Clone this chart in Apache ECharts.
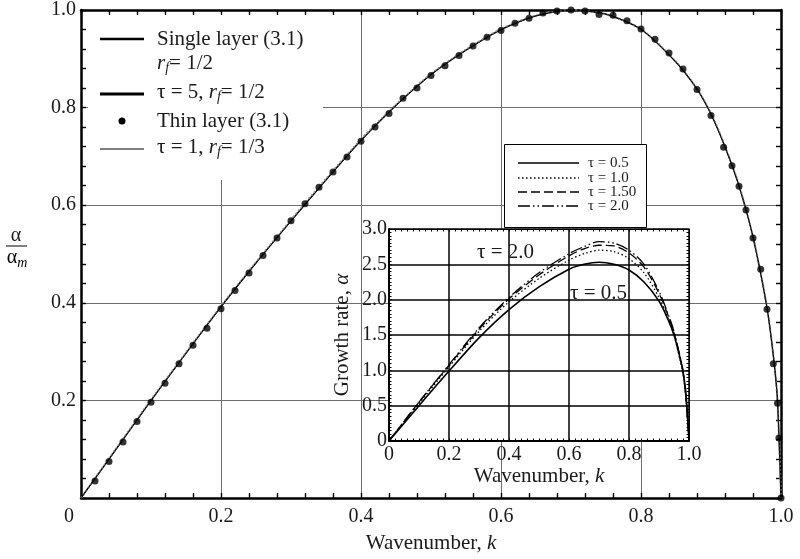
<!DOCTYPE html>
<html>
<head>
<meta charset="utf-8">
<script src="https://cdn.jsdelivr.net/npm/echarts@6/dist/echarts.min.js"></script>
<style>html,body{margin:0;padding:0;background:#fff}#c{width:800px;height:559px}</style>
</head>
<body>
<div id="c"></div>
<script>
// ---------- Data ----------
// Main plot: thin-layer dots
var thinK = [0.02,0.04,0.06,0.08,0.10,0.12,0.14,0.16,0.18,0.20,0.22,0.24,0.26,0.28,0.30,0.32,0.34,0.36,0.38,0.40,0.42,0.44,0.46,0.48,0.50,0.52,0.54,0.56,0.58,0.60,0.62,0.64,0.66,0.68,0.70,0.72,0.74,0.76,0.78,0.80,0.82,0.84,0.86,0.88,0.90,0.918,0.93,0.94,0.95,0.96,0.971,0.98,0.989,0.995,0.997,1.0];
var thinV = [0.035,0.075,0.115,0.157,0.196,0.235,0.275,0.313,0.348,0.388,0.425,0.461,0.497,0.533,0.568,0.603,0.637,0.668,0.699,0.731,0.760,0.788,0.819,0.840,0.866,0.886,0.907,0.926,0.944,0.958,0.973,0.983,0.994,0.998,1.0,0.998,0.991,0.989,0.978,0.961,0.94,0.912,0.879,0.837,0.784,0.719,0.681,0.639,0.59,0.533,0.469,0.387,0.275,0.194,0.123,0.0];
// Main plot: curves
var lineK      = [0,0.02,0.05,0.10,0.15,0.20,0.25,0.30,0.35,0.40,0.45,0.50,0.55,0.60,0.65,0.70,0.75,0.80,0.85,0.88,0.90,0.92,0.94,0.96,0.98,0.99,0.995,1.0];
var singleV    = [0,0.040,0.100,0.200,0.297,0.392,0.482,0.568,0.652,0.733,0.805,0.868,0.918,0.960,0.988,1.000,0.991,0.960,0.893,0.838,0.787,0.720,0.640,0.535,0.390,0.280,0.200,0];
var tau5V      = [0,0.040,0.101,0.201,0.298,0.393,0.483,0.570,0.654,0.735,0.806,0.869,0.919,0.961,0.989,1.000,0.991,0.961,0.894,0.839,0.788,0.721,0.641,0.536,0.391,0.281,0.200,0];
var tau1V      = [0,0.039,0.099,0.199,0.296,0.391,0.481,0.567,0.651,0.732,0.804,0.867,0.917,0.959,0.988,1.000,0.992,0.961,0.893,0.838,0.786,0.719,0.639,0.534,0.389,0.279,0.199,0];
// Inset: growth rate vs wavenumber
var insetK   = [0,0.10,0.20,0.30,0.40,0.50,0.60,0.65,0.70,0.75,0.80,0.85,0.90,0.93,0.95,0.97,0.98,0.99,1.0];
var tau05V   = [0,0.50,0.99,1.46,1.86,2.18,2.43,2.50,2.53,2.50,2.42,2.25,1.98,1.72,1.50,1.18,0.98,0.66,0];
var tau10V   = [0,0.53,1.05,1.55,1.97,2.30,2.56,2.65,2.70,2.68,2.58,2.38,2.03,1.74,1.50,1.15,0.95,0.60,0];
var tau15V   = [0,0.55,1.07,1.58,2.01,2.35,2.62,2.72,2.77,2.76,2.66,2.46,2.09,1.78,1.53,1.18,0.98,0.60,0];
var tau20V   = [0,0.55,1.08,1.60,2.03,2.38,2.65,2.75,2.82,2.80,2.70,2.50,2.12,1.80,1.55,1.20,1.00,0.60,0];
// Tick labels
var mainXTicks  = ['0','0.2','0.4','0.6','0.8','1.0'];
var mainYTicks  = ['','0.2','0.4','0.6','0.8','1.0'];
var insetXTicks = ['0','0.2','0.4','0.6','0.8','1.0'];
var insetYTicks = ['0','0.5','1.0','1.5','2.0','2.5','3.0'];

// ---------- Helpers ----------
function pairs(xs, ys){ return xs.map(function(x,i){ return [x, ys[i]]; }); }
var FF = '"Liberation Serif","DejaVu Serif","Times New Roman",serif';
var TXT = '#1a1a1a';

function tickFmt(list, step){ return function(v){ var i = Math.round(v/step); return list[i] !== undefined ? list[i] : ''; }; }

function frameAxis(kind, grid, pos, opts){
  return {
    type:'value', gridIndex:grid, position:pos, min:opts.min, max:opts.max, interval:opts.interval,
    z: opts.z,
    axisLine:{show:true, onZero:false, lineStyle:{color:'#000', width:opts.lw}},
    axisTick:{show:true, inside:true, length:opts.tl, lineStyle:{color:'#000', width:opts.tw}},
    minorTick:{show:true, splitNumber:opts.minor, length:opts.tl, lineStyle:{color:'#000', width:opts.tw}},
    splitLine:{show:false},
    axisLabel:{show:false}
  };
}

var mainX = frameAxis('x',0,'bottom',{min:0,max:1,interval:0.2,lw:2.5,tl:5,tw:1.4,minor:5,z:0});
mainX.splitLine = {show:true, lineStyle:{color:'#6e6e6e', width:1}};
mainX.axisLabel = {show:true, margin:9, color:TXT, fontSize:20, fontFamily:FF,
  formatter:function(v){ var s = tickFmt(mainXTicks,0.2)(v); return v===0 ? '{z|'+s+'}' : s; },
  rich:{z:{fontSize:20, fontFamily:FF, color:TXT, padding:[0,24,0,0]}}};
mainX.name = 'Wavenumber, {i|k}';
mainX.nameLocation = 'middle';
mainX.nameGap = 35;
mainX.nameTextStyle = {fontSize:21, fontFamily:FF, color:TXT, rich:{i:{fontSize:21, fontFamily:FF, fontStyle:'italic', color:TXT}}};

var mainXTop = frameAxis('x',0,'top',{min:0,max:1,interval:0.2,lw:2.5,tl:5,tw:1.4,minor:5,z:0});

var mainY = frameAxis('y',0,'left',{min:0,max:1,interval:0.2,lw:2.5,tl:5,tw:1.4,minor:5,z:0});
mainY.splitLine = {show:true, lineStyle:{color:'#6e6e6e', width:1}};
mainY.axisLabel = {show:true, margin:5, color:TXT, fontSize:20, fontFamily:FF, formatter:tickFmt(mainYTicks,0.2)};

var mainYRight = frameAxis('y',0,'right',{min:0,max:1,interval:0.2,lw:2.5,tl:5,tw:1.4,minor:5,z:0});

var inX = frameAxis('x',1,'bottom',{min:0,max:1,interval:0.2,lw:2,tl:2.5,tw:1,minor:10,z:3});
inX.splitLine = {show:true, lineStyle:{color:'#000', width:1.5}};
inX.axisLabel = {show:true, margin:4, color:TXT, fontSize:20, fontFamily:FF, formatter:tickFmt(insetXTicks,0.2)};
inX.name = 'Wavenumber, {i|k}';
inX.nameLocation = 'middle';
inX.nameGap = 24;
inX.nameTextStyle = {fontSize:21, fontFamily:FF, color:TXT, rich:{i:{fontSize:21, fontFamily:FF, fontStyle:'italic', color:TXT}}};

var inXTop = frameAxis('x',1,'top',{min:0,max:1,interval:0.2,lw:1,tl:2.5,tw:1,minor:10,z:3});

var inY = frameAxis('y',1,'left',{min:0,max:3,interval:0.5,lw:2,tl:2.5,tw:1,minor:10,z:3});
inY.splitLine = {show:true, lineStyle:{color:'#000', width:1.5}};
inY.axisLabel = {show:true, margin:2, color:TXT, fontSize:20, fontFamily:FF, formatter:tickFmt(insetYTicks,0.5)};
inY.name = 'Growth rate, {i|α}';
inY.nameLocation = 'middle';
inY.nameGap = 36;
inY.nameTextStyle = {fontSize:21, fontFamily:FF, color:TXT, rich:{i:{fontSize:21, fontFamily:FF, fontStyle:'italic', color:TXT}}};

var inYRight = frameAxis('y',1,'right',{min:0,max:3,interval:0.5,lw:1,tl:2.5,tw:1,minor:10,z:3});

var richR = {
  n:{fontSize:21, fontFamily:FF, color:TXT},
  it:{fontSize:21, fontFamily:FF, fontStyle:'italic', color:TXT},
  sub:{fontSize:14, fontFamily:FF, fontStyle:'italic', color:TXT, padding:[10,0,0,0]}
};
function ltext(x, y, txt, z){
  return {type:'text', x:x, y:y, z:z||6, silent:true,
    style:{text:txt, rich:richR, fontSize:21, fontFamily:FF, fill:TXT, verticalAlign:'middle', align:'left'}};
}
function hline(x1,x2,y,w,dash,z){
  return {type:'line', z:z||6, silent:true, shape:{x1:x1,y1:y,x2:x2,y2:y},
    style:{stroke:'#000', lineWidth:w, lineDash:dash||null}};
}
var small = {fontSize:15, fontFamily:FF, fill:TXT, verticalAlign:'middle', align:'left'};
function stext(x,y,t){ return {type:'text', x:x, y:y, z:7, silent:true, style:Object.assign({text:t}, small)}; }

var graphics = [
  // main legend
  {type:'rect', z:1, silent:true, shape:{x:88, y:15, width:235, height:165}, style:{fill:'#fff'}},
  hline(100,144,39,2.5),
  ltext(157,39,'{n|Single layer (3.1)}'),
  ltext(157,63,'{it|r}{sub|f}{n|= 1/2}'),
  hline(100,144,94,3),
  ltext(157,92,'{n|τ = 5, }{it|r}{sub|f}{n|= 1/2}'),
  {type:'circle', z:6, silent:true, shape:{cx:122, cy:121, r:3.5}, style:{fill:'#000'}},
  ltext(157,121,'{n|Thin layer (3.1)}'),
  hline(100,144,149,1),
  ltext(157,147,'{n|τ = 1, }{it|r}{sub|f}{n|= 1/3}'),
  // inset legend
  {type:'rect', z:5, silent:true, shape:{x:504.5, y:144.5, width:142, height:83}, style:{fill:'#fff', stroke:'#000', lineWidth:1}},
  hline(518,579,163,1.4,null,7),
  stext(588,163,'τ = 0.5'),
  hline(518,579,178,1.4,[1.5,2.5],7),
  stext(588,178,'τ = 1.0'),
  hline(518,579,192,1.4,[9,4],7),
  stext(588,192,'τ = 1.50'),
  hline(518,579,206,1.4,[12,3,1.5,3,1.5,3],7),
  stext(588,206,'τ = 2.0'),
  // inset annotations
  {type:'text', x:477, y:252, z:8, silent:true, style:{text:'τ = 2.0', fontSize:21, fontFamily:FF, fill:TXT, verticalAlign:'middle'}},
  {type:'text', x:570, y:293, z:8, silent:true, style:{text:'τ = 0.5', fontSize:21, fontFamily:FF, fill:TXT, verticalAlign:'middle'}},
  // y-axis fraction label alpha / alpha_m
  {type:'text', x:16, y:236, z:6, silent:true, style:{text:'α', fontSize:20, fontFamily:FF, fill:TXT, align:'center', verticalAlign:'middle'}},
  hline(6,27,246,1),
  {type:'text', x:17, y:258, z:6, silent:true, style:{text:'{a|α}{s|m}', rich:{a:{fontSize:20,fontFamily:FF,color:TXT}, s:{fontSize:14,fontFamily:FF,fontStyle:'italic',color:TXT,padding:[10,0,0,0]}}, align:'center', verticalAlign:'middle'}}
];

var option = {
  animation:false,
  backgroundColor:'#fff',
  grid:[
    {left:81, top:9, width:700, height:490, show:false},
    {left:389, top:229, width:300, height:212, show:true, backgroundColor:'#fff', borderWidth:0, z:2}
  ],
  xAxis:[mainX, mainXTop, inX, inXTop],
  yAxis:[mainY, mainYRight, inY, inYRight],
  series:[
    {name:'Single layer (3.1)', type:'line', xAxisIndex:0, yAxisIndex:0, data:pairs(lineK,singleV), smooth:0.25, symbol:'none', z:3,
      lineStyle:{color:'#000', width:1.3}},
    {name:'τ = 5, rf = 1/2', type:'line', xAxisIndex:0, yAxisIndex:0, data:pairs(lineK,tau5V), smooth:0.25, symbol:'none', z:3,
      lineStyle:{color:'#8c8c8c', width:2, type:[2,2]}},
    {name:'τ = 1, rf = 1/3', type:'line', xAxisIndex:0, yAxisIndex:0, data:pairs(lineK,tau1V), smooth:0.25, symbol:'none', z:3,
      lineStyle:{color:'#000', width:0.8}},
    {name:'Thin layer (3.1)', type:'scatter', xAxisIndex:0, yAxisIndex:0, data:pairs(thinK,thinV), symbol:'circle', symbolSize:7, z:4,
      itemStyle:{color:'#000'}},
    {name:'τ = 0.5', type:'line', xAxisIndex:2, yAxisIndex:2, data:pairs(insetK,tau05V), smooth:0.3, symbol:'none', z:5,
      lineStyle:{color:'#000', width:1.6}},
    {name:'τ = 1.0', type:'line', xAxisIndex:2, yAxisIndex:2, data:pairs(insetK,tau10V), smooth:0.3, symbol:'none', z:5,
      lineStyle:{color:'#000', width:1.3, type:[1.5,2.5]}},
    {name:'τ = 1.50', type:'line', xAxisIndex:2, yAxisIndex:2, data:pairs(insetK,tau15V), smooth:0.3, symbol:'none', z:5,
      lineStyle:{color:'#000', width:1.3, type:[9,4]}},
    {name:'τ = 2.0', type:'line', xAxisIndex:2, yAxisIndex:2, data:pairs(insetK,tau20V), smooth:0.3, symbol:'none', z:5,
      lineStyle:{color:'#000', width:1.3, type:[12,3,1.5,3,1.5,3]}}
  ],
  graphic:graphics
};
var chart = echarts.init(document.getElementById('c'), null, {renderer:'canvas'});
chart.setOption(option);
</script>
</body>
</html>
